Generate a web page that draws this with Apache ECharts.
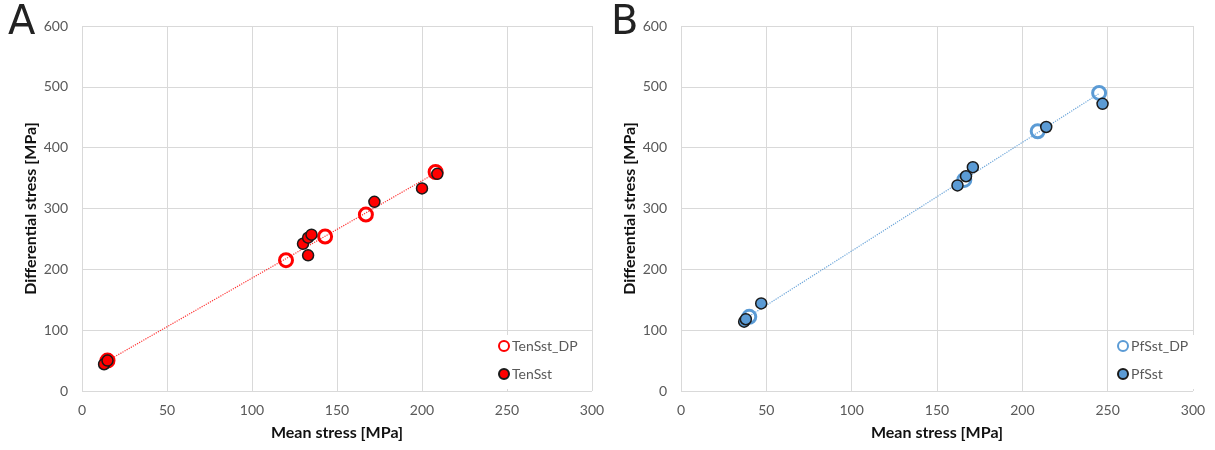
<!DOCTYPE html>
<html>
<head>
<meta charset="utf-8">
<script src="https://cdn.jsdelivr.net/npm/echarts@6/dist/echarts.min.js"></script>
<style>
html,body{margin:0;padding:0;background:#fff;}
#chart{width:1215px;height:450px;}
</style>
</head>
<body>
<div id="chart"></div>
<script>
// Panel A data [mean stress, differential stress]
const tenSstDP = [[15, 50], [120, 215], [143, 254], [167, 290], [208, 360]];
const tenSst = [[13, 44], [15, 50], [130, 242], [133, 223], [133, 252], [135, 257], [172, 311], [200, 333], [209, 357]];
const trendA = [[14, 48], [209, 360]];
// Panel B data
const pfSstDP = [[40, 122], [166, 347], [209, 427], [245, 490]];
const pfSst = [[37, 114], [38, 118], [47, 144], [162, 338], [167, 353], [171, 368], [214, 434], [247, 472]];
const trendB = [[40, 123], [245, 489]];

const xTicks = [0, 50, 100, 150, 200, 250, 300];
const yTicks = [0, 100, 200, 300, 400, 500, 600];
const xTitle = 'Mean stress [MPa]';
const yTitle = 'Differential stress [MPa]';

const FONT = 'Lato, "Open Sans", sans-serif';
const red = '#ff0000';
const blue = '#5b9bd5';

function xAx(gi) {
  return {
    type: 'value', gridIndex: gi, min: xTicks[0], max: xTicks[xTicks.length - 1], interval: 50,
    name: xTitle, nameLocation: 'middle', nameGap: 34,
    nameTextStyle: { fontFamily: FONT, fontSize: 16, fontWeight: 'bold', color: '#111' },
    axisLine: { show: false }, axisTick: { show: false },
    axisLabel: { fontFamily: FONT, fontSize: 14, color: '#595959', margin: 12 },
    splitLine: { show: true, lineStyle: { color: '#d9d9d9', width: 1 } }
  };
}
function yAx(gi) {
  return {
    type: 'value', gridIndex: gi, min: yTicks[0], max: yTicks[yTicks.length - 1], interval: 100,
    name: yTitle, nameLocation: 'middle', nameGap: 43, nameRotate: 90,
    nameTextStyle: { fontFamily: FONT, fontSize: 16, fontWeight: 'bold', color: '#111' },
    axisLine: { show: false }, axisTick: { show: false },
    axisLabel: { fontFamily: FONT, fontSize: 14, color: '#595959', margin: 14 },
    splitLine: { show: true, lineStyle: { color: '#d9d9d9', width: 1 } }
  };
}

const chart = echarts.init(document.getElementById('chart'), null, { renderer: 'canvas' });
chart.setOption({
  backgroundColor: '#fff',
  animation: false,
  grid: [
    { left: 82, right: 623, top: 26, bottom: 59, show: false },
    { left: 681, right: 22, top: 26, bottom: 59, show: false }
  ],
  xAxis: [xAx(0), xAx(1)],
  yAxis: [yAx(0), yAx(1)],
  legend: [
    {
      data: ['TenSst_DP', 'TenSst'], orient: 'vertical', left: 494, top: 335,
      itemWidth: 10, itemHeight: 10, itemGap: 14, padding: [4, 6, 8, 4],
      backgroundColor: '#fff',
      textStyle: { fontFamily: FONT, fontSize: 14, color: '#595959', padding: [0, 0, 0, -2] }
    },
    {
      data: ['PfSst_DP', 'PfSst'], orient: 'vertical', left: 1113, top: 335,
      itemWidth: 10, itemHeight: 10, itemGap: 14, padding: [4, 6, 8, 4],
      backgroundColor: '#fff',
      textStyle: { fontFamily: FONT, fontSize: 14, color: '#595959', padding: [0, 0, 0, -2] }
    }
  ],
  graphic: [
    { type: 'text', left: 8, top: 4, style: { text: 'A', font: '40px "DejaVu Sans", sans-serif', fill: '#222' } },
    { type: 'text', left: 611, top: 4, style: { text: 'B', font: '40px "DejaVu Sans", sans-serif', fill: '#222' } }
  ],
  series: [
    { name: 'trendA', type: 'line', xAxisIndex: 0, yAxisIndex: 0, data: trendA, showSymbol: false, silent: true, z: 1,
      lineStyle: { color: red, width: 1.2, type: 'dotted', opacity: 0.8 } },
    { name: 'TenSst_DP', type: 'scatter', xAxisIndex: 0, yAxisIndex: 0, data: tenSstDP, symbol: 'circle', symbolSize: 13, z: 2,
      itemStyle: { color: 'rgba(255,255,255,0)', borderColor: red, borderWidth: 3, opacity: 1 } },
    { name: 'TenSst', type: 'scatter', xAxisIndex: 0, yAxisIndex: 0, data: tenSst, symbol: 'circle', symbolSize: 11, z: 3,
      itemStyle: { color: red, borderColor: '#1a1a1a', borderWidth: 1.5, opacity: 1 } },
    { name: 'trendB', type: 'line', xAxisIndex: 1, yAxisIndex: 1, data: trendB, showSymbol: false, silent: true, z: 1,
      lineStyle: { color: blue, width: 1.2, type: 'dotted', opacity: 0.9 } },
    { name: 'PfSst_DP', type: 'scatter', xAxisIndex: 1, yAxisIndex: 1, data: pfSstDP, symbol: 'circle', symbolSize: 13, z: 2,
      itemStyle: { color: 'rgba(255,255,255,0)', borderColor: blue, borderWidth: 3, opacity: 1 } },
    { name: 'PfSst', type: 'scatter', xAxisIndex: 1, yAxisIndex: 1, data: pfSst, symbol: 'circle', symbolSize: 11, z: 3,
      itemStyle: { color: blue, borderColor: '#1a1a1a', borderWidth: 1.5, opacity: 1 } }
  ]
});
</script>
</body>
</html>
